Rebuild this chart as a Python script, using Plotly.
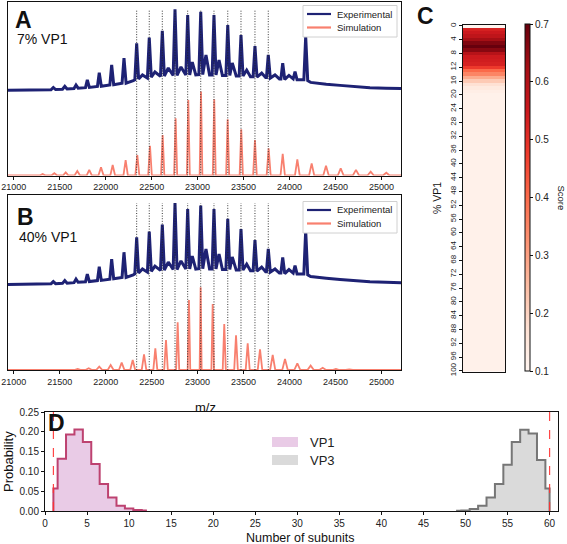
import plotly.graph_objects as go

FONT = "Liberation Sans, Arial, sans-serif"

# ---------------- Panels A / B : native MS spectrum ----------------
mz_range = [20937, 25213]
mz_ticks = [21000, 21500, 22000, 22500, 23000, 23500, 24000, 24500, 25000]

# experimental spectrum (same data in A and B)
exp_mz = [20937, 21150, 21300, 21405, 21430, 21455, 21530, 21555, 21580, 21655,
          21677, 21700, 21780, 21800, 21822, 21870, 21910, 21930, 21952, 22045,
          22065, 22087, 22178, 22199, 22222, 22300, 22317, 22337, 22358, 22400,
          22454, 22474, 22496, 22536, 22596, 22616, 22638, 22681, 22734, 22754,
          22776, 22819, 22872, 22892, 22914, 22942, 22980, 23014, 23034, 23056,
          23091, 23130, 23158, 23178, 23200, 23233, 23270, 23308, 23328, 23350,
          23377, 23420, 23452, 23472, 23494, 23534, 23575, 23604, 23624, 23646,
          23697, 23740, 23749, 23769, 23791, 23842, 23890, 23906, 23926, 23948,
          23994, 24040, 24060, 24082, 24130, 24156, 24176, 24198, 24230, 24300,
          24400, 24550, 24700, 24875, 25050, 25213]
exp_int = [0.490, 0.491, 0.492, 0.493, 0.506, 0.494, 0.496, 0.512, 0.497, 0.500,
           0.520, 0.502, 0.505, 0.549, 0.506, 0.510, 0.512, 0.591, 0.513, 0.520,
           0.635, 0.522, 0.530, 0.674, 0.530, 0.545, 0.550, 0.760, 0.555, 0.578,
           0.560, 0.792, 0.565, 0.595, 0.570, 0.832, 0.572, 0.618, 0.575, 0.955,
           0.575, 0.624, 0.578, 0.922, 0.578, 0.652, 0.578, 0.580, 0.941, 0.580,
           0.693, 0.578, 0.578, 0.922, 0.578, 0.664, 0.575, 0.575, 0.865, 0.575,
           0.647, 0.572, 0.572, 0.807, 0.572, 0.606, 0.568, 0.568, 0.744, 0.566,
           0.589, 0.563, 0.563, 0.693, 0.560, 0.578, 0.555, 0.555, 0.645, 0.552,
           0.575, 0.555, 0.597, 0.550, 0.548, 0.550, 0.798, 0.545, 0.535, 0.530,
           0.525, 0.518, 0.510, 0.505, 0.502, 0.500]

# charge-state peaks marked with dotted lines
peak_lines_mz = [22337, 22474, 22616, 22754, 22892, 23034, 23178, 23328, 23472, 23624, 23769]
peak_line_top = 0.955

# simulated spectra: peak centres, heights and half-widths (Da)
simA_mz = [21314, 21441, 21565, 21691, 21821, 21949, 22076, 22217, 22344, 22482,
           22620, 22761, 22899, 23037, 23181, 23327, 23475, 23624, 23773, 23926,
           24085, 24241, 24397, 24557, 24723, 24883, 25053]
simA_int = [0.008, 0.013, 0.018, 0.026, 0.032, 0.047, 0.060, 0.089, 0.118, 0.170,
            0.233, 0.329, 0.434, 0.482, 0.438, 0.323, 0.266, 0.204, 0.156, 0.124,
            0.093, 0.070, 0.056, 0.041, 0.032, 0.022, 0.016]
simA_hw = [32, 32, 30, 30, 28, 28, 26, 24, 22, 20,
           18, 17, 16, 15, 16, 17, 18, 20, 22, 24,
           26, 28, 30, 32, 34, 35, 36]
simB_mz = [21695, 21815, 21930, 22054, 22174, 22294, 22417, 22540, 22656, 22783,
           22906, 23033, 23164, 23290, 23418, 23545, 23679, 23817, 23951, 24085,
           24230, 24361, 24505, 24650, 24803]
simB_int = [0.006, 0.010, 0.019, 0.029, 0.042, 0.057, 0.090, 0.124, 0.172, 0.273,
            0.401, 0.473, 0.378, 0.263, 0.199, 0.153, 0.118, 0.086, 0.063, 0.038,
            0.025, 0.013, 0.006, 0.003, 0.001]
simB_hw = [38, 36, 34, 32, 30, 27, 25, 22, 20, 17,
           14, 11, 14, 17, 20, 22, 25, 28, 30, 33,
           35, 37, 39, 40, 40]

# ---------------- Panel C : score heat map ----------------
pct_vp1 = list(range(0, 101))
score = [0.10, 0.53, 0.55, 0.575, 0.625, 0.67, 0.70, 0.66, 0.59, 0.545,
         0.54, 0.53, 0.48, 0.40, 0.35, 0.28, 0.22, 0.17, 0.14, 0.125,
         0.115, 0.115, 0.115, 0.115, 0.115, 0.115, 0.115, 0.115, 0.115, 0.115,
         0.115, 0.115, 0.115, 0.115, 0.115, 0.115, 0.115, 0.115, 0.115, 0.115,
         0.115, 0.115, 0.115, 0.115, 0.115, 0.115, 0.115, 0.115, 0.115, 0.115,
         0.115, 0.115, 0.115, 0.115, 0.115, 0.115, 0.115, 0.115, 0.115, 0.115,
         0.115, 0.115, 0.115, 0.115, 0.115, 0.115, 0.115, 0.115, 0.115, 0.115,
         0.115, 0.115, 0.115, 0.115, 0.115, 0.115, 0.115, 0.115, 0.115, 0.115,
         0.115, 0.115, 0.115, 0.115, 0.115, 0.115, 0.115, 0.115, 0.115, 0.115,
         0.115, 0.115, 0.115, 0.115, 0.115, 0.115, 0.115, 0.115, 0.115, 0.115,
         0.115]
pct_ticks = list(range(0, 101, 4))
score_ticks = [0.1, 0.2, 0.3, 0.4, 0.5, 0.6, 0.7]
reds = [[0.0, "#fff5f0"], [0.125, "#fee0d2"], [0.25, "#fcbba1"], [0.375, "#fc9272"],
        [0.5, "#fb6a4a"], [0.625, "#ef3b2c"], [0.75, "#cb181d"], [0.875, "#a50f15"],
        [1.0, "#67000d"]]

# ---------------- Panel D : subunit distributions ----------------
vp1_n = [1, 2, 3, 4, 5, 6, 7, 8, 9, 10, 11, 12]
vp1_p = [0.057, 0.132, 0.193, 0.206, 0.174, 0.119, 0.068, 0.034, 0.0135, 0.006, 0.0025, 0.001]
vp3_n = [49, 50, 51, 52, 53, 54, 55, 56, 57, 58, 59, 60]
vp3_p = [0.0005, 0.001, 0.005, 0.013, 0.034, 0.068, 0.117, 0.174, 0.205, 0.196, 0.129, 0.057]
limits = [1, 60]
n_ticks = list(range(0, 61, 5))
p_ticks = [0.0, 0.05, 0.10, 0.15, 0.20, 0.25]

EXP_COLOR = "#1e2274"
SIM_COLOR = "#f8806f"
VP1_LINE, VP1_FILL = "#bd4270", "rgba(226,186,222,0.75)"
VP3_LINE, VP3_FILL = "#767676", "rgba(205,205,205,0.75)"

W, H = 567, 544


def px(x):
    return x / W


def py(y):
    return 1 - y / H


def peak_line(centres, heights, widths, lo, hi):
    xs, ys = [lo], [0.0]
    for c, h, hw in zip(centres, heights, widths):
        xs += [c - hw, c, c + hw]
        ys += [0.0, h, 0.0]
    xs.append(hi)
    ys.append(0.0)
    return xs, ys


def dotted(positions, top):
    xs, ys = [], []
    for p in positions:
        xs += [p, p, None]
        ys += [0, top, None]
    return xs, ys


fig = go.Figure()

dx, dy = dotted(peak_lines_mz, peak_line_top)
for smz, sint, shw, ax in [(simA_mz, simA_int, simA_hw, ""), (simB_mz, simB_int, simB_hw, "2")]:
    sx, sy = peak_line(smz, sint, shw, mz_range[0], mz_range[1])
    fig.add_trace(go.Scatter(x=exp_mz, y=exp_int, mode="lines", name="Experimental",
                             line=dict(color=EXP_COLOR, width=3), xaxis="x" + ax, yaxis="y" + ax))
    fig.add_trace(go.Scatter(x=sx, y=sy, mode="lines", name="Simulation",
                             line=dict(color=SIM_COLOR, width=1.8), xaxis="x" + ax, yaxis="y" + ax))
    fig.add_trace(go.Scatter(x=dx, y=dy, mode="lines", hoverinfo="skip",
                             line=dict(color="#222222", width=0.9, dash="1px,1.6px"),
                             xaxis="x" + ax, yaxis="y" + ax))

# heat map
fig.add_trace(go.Heatmap(z=[[s] for s in score], x=[0], y=pct_vp1, colorscale=reds,
                         zmin=0.1, zmax=0.7, xaxis="x3", yaxis="y3",
                         colorbar=dict(thickness=5, len=347, lenmode="pixels",
                                       x=px(525), xanchor="left", xpad=0,
                                       y=py(197.5), yanchor="middle", ypad=0,
                                       outlinewidth=1, outlinecolor="#111111",
                                       tickvals=score_ticks, ticks="outside", ticklen=3,
                                       tickcolor="#111111",
                                       tickfont=dict(family=FONT, size=10, color="#222222"))))

# distributions (step histograms)
for n, p, line_c, fill_c, name in [(vp1_n, vp1_p, VP1_LINE, VP1_FILL, "VP1"),
                                   (vp3_n, vp3_p, VP3_LINE, VP3_FILL, "VP3")]:
    xs = [n[0]] + n + [n[-1]]
    ys = [0.0] + p + [0.0]
    fig.add_trace(go.Scatter(x=xs, y=ys, mode="lines", line=dict(width=0, shape="hvh"),
                             fill="tozeroy", fillcolor=fill_c, name=name,
                             xaxis="x4", yaxis="y4"))
    fig.add_trace(go.Scatter(x=xs, y=ys, mode="lines", line=dict(color=line_c, width=2, shape="hvh"),
                             name=name, xaxis="x4", yaxis="y4"))

frame = dict(showline=True, linecolor="#111111", linewidth=1, mirror=True,
             showgrid=False, zeroline=False, automargin=False)
tickfont = dict(family=FONT, size=9, color="#222222")

xdomAB = [px(8), px(401)]
fig.update_layout(
    width=W, height=H, margin=dict(l=0, r=0, t=0, b=0),
    paper_bgcolor="white", plot_bgcolor="white", template="none",
    font=dict(family=FONT, color="#222222"), showlegend=False,
    xaxis=dict(domain=xdomAB, range=mz_range, tickvals=mz_ticks, tickformat="d", ticks="outside",
               ticklen=3, tickcolor="#111111", tickfont=tickfont, anchor="y", **frame),
    yaxis=dict(domain=[py(175.5), py(1.5)], range=[0, 1], showticklabels=False,
               ticks="", anchor="x", **frame),
    xaxis2=dict(domain=xdomAB, range=mz_range, tickvals=mz_ticks, tickformat="d", ticks="outside",
                ticklen=3, tickcolor="#111111", tickfont=tickfont, anchor="y2", **frame),
    yaxis2=dict(domain=[py(370), py(195.3)], range=[0, 1], showticklabels=False,
                ticks="", anchor="x2", **frame),
    xaxis3=dict(domain=[px(463), px(505)], range=[-0.5, 0.5], showticklabels=False,
                ticks="", anchor="y3", **frame),
    yaxis3=dict(domain=[py(371.5), py(24.5)], range=[100.2, -0.4], tickvals=pct_ticks,
                ticks="outside", ticklen=3, tickcolor="#111111", tickangle=-90,
                tickfont=dict(family=FONT, size=8, color="#222222"), anchor="x3", **frame),
    xaxis4=dict(domain=[px(45), px(558)], range=[0, 61], tickvals=n_ticks, ticks="outside",
                ticklen=3, tickcolor="#111111", tickfont=dict(family=FONT, size=10, color="#222222"),
                anchor="y4", **frame),
    yaxis4=dict(domain=[py(511), py(412)], range=[0, 0.25], tickvals=p_ticks,
                tickformat=".2f", ticks="outside", ticklen=3, tickcolor="#111111",
                tickfont=dict(family=FONT, size=10, color="#222222"), anchor="x4", **frame),
)

# theoretical limits in D
for lim in limits:
    fig.add_shape(type="line", x0=lim, x1=lim, y0=0, y1=1, xref="x4", yref="y4 domain",
                  line=dict(color="rgba(255,50,50,0.9)", width=1.2, dash="dash"))


def ann(text, x, y, size, bold=False, xanchor="center", angle=0, color="#111111"):
    fig.add_annotation(text=("<b>%s</b>" % text) if bold else text, x=px(x), y=py(y),
                       xref="paper", yref="paper", showarrow=False, xanchor=xanchor,
                       yanchor="middle", textangle=angle,
                       font=dict(family=FONT, size=size, color=color))


# legend boxes for A and B (drawn like the reference's matplotlib legends)
for top, bottom, y1, y2 in [(5.5, 37, 14, 27.5), (201.5, 233, 210, 223.5)]:
    fig.add_shape(type="rect", xref="paper", yref="paper", x0=px(303), x1=px(397),
                  y0=py(bottom), y1=py(top), fillcolor="white",
                  line=dict(color="#d0d0d0", width=1), layer="above")
    fig.add_shape(type="line", xref="paper", yref="paper", x0=px(307), x1=px(331),
                  y0=py(y1), y1=py(y1), line=dict(color=EXP_COLOR, width=2.2), layer="above")
    fig.add_shape(type="line", xref="paper", yref="paper", x0=px(307), x1=px(331),
                  y0=py(y2), y1=py(y2), line=dict(color=SIM_COLOR, width=2.2), layer="above")
    ann("Experimental", 335, y1, 9.5, xanchor="left", color="#222222")
    ann("Simulation", 335, y2, 9.5, xanchor="left", color="#222222")

# legend for D
for yc, fill_c, name in [(442, VP1_FILL, "VP1"), (460, VP3_FILL, "VP3")]:
    fig.add_shape(type="rect", xref="paper", yref="paper", x0=px(272), x1=px(298),
                  y0=py(yc + 5), y1=py(yc - 5), fillcolor=fill_c, line=dict(width=0),
                  layer="above")
    ann(name, 308, yc, 13, xanchor="left", color="#222222")

ann("A", 23.5, 20, 23, bold=True)
ann("7% VP1", 15, 39, 14, xanchor="left")
ann("B", 25.5, 217, 23, bold=True)
ann("40% VP1", 17, 237, 14, xanchor="left")
ann("C", 425.5, 16, 23, bold=True)
ann("D", 56, 423, 23, bold=True)
ann("m/z", 205, 407, 13)
ann("% VP1", 437, 198, 10.5, angle=-90)
ann("Score", 561, 197.5, 9.5, angle=90)
ann("Number of subunits", 300, 537.5, 12.5)
ann("Probability", 8, 462, 13, angle=-90)

fig.write_html("out.html", post_script="document.body.style.margin='0';",
               config={"displayModeBar": False})
